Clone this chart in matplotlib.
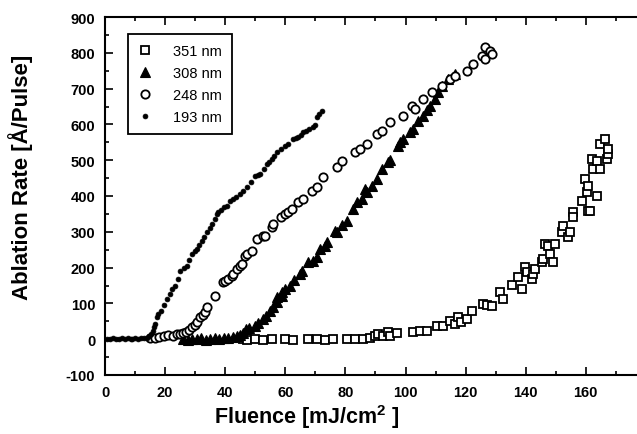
import matplotlib
matplotlib.use("Agg")
import matplotlib.pyplot as plt
from matplotlib.ticker import MultipleLocator

plt.rcParams['font.family'] = ['Liberation Sans', 'DejaVu Sans']
plt.rcParams['axes.unicode_minus'] = False
plt.rcParams['mathtext.fontset'] = 'custom'
plt.rcParams['mathtext.bf'] = 'Liberation Sans:bold'
plt.rcParams['mathtext.rm'] = 'Liberation Sans'

# 351 nm
x351 = [46, 47.2, 49.9, 52.6, 55.5, 59.9, 62.5, 67.5, 70.5, 73.2, 75.8, 80.5, 83.2, 85.8, 88.2,
        89.8, 90.8, 92.5, 94.1, 94.8, 97.1, 102.5, 104.8, 107.1, 110.4, 112.4, 114.8, 116.5,
        117.4, 118.5, 120.4, 122.1, 125.7, 127, 128.7, 131.4, 132.4, 135.4, 137.4, 138.7, 139.7,
        140.4, 142, 142.4, 143, 145.4, 145.7, 146.4, 147.4, 148, 149, 149.7, 152, 152.4, 154,
        154.7, 155.7, 155.7, 158.7, 159.7, 160.4, 160.7, 160.7, 161.3, 162, 162.3, 163.7, 163.7,
        164.7, 164.7, 166.3, 167, 167.3, 167.3]
y351 = [0, -2, 0, -1, 0, 0, -1, 0, 0, -1, 0, 0, 1, 0, 3,
        8, 14, 10, 20, 8, 17, 20, 22, 22, 36, 36, 50, 42,
        61, 48, 56, 78, 98, 95, 92, 131, 112, 151, 173, 140, 201,
        187, 168, 182, 196, 215, 223, 265, 260, 237, 215, 265, 299, 316, 285,
        299, 355, 341, 385, 447, 410, 427, 358, 358, 503, 475, 399, 497,
        475, 545, 559, 503, 517, 531]

# 308 nm
x308 = [26, 27.5, 29, 30.5, 32, 33.5, 35, 36.5, 38, 39.5, 41, 42.5, 43.8, 45, 46, 47, 48,
        49.9, 51, 52.6, 53.5, 54.9, 56, 57.2, 57.2, 58.9, 58.9, 60, 61.5, 63, 64.9, 65.5,
        67.5, 69.2, 70.5, 71.5, 73.2, 73.9, 76.5, 77.2, 79, 80.5, 82.5, 83.8, 85.5, 86.5,
        87.2, 88.8, 90.5, 92.2, 94.1, 95, 97.5, 98.2, 99.1, 101.5, 102.5, 104.1, 105.8, 107,
        108.1, 109.8, 110.8, 112.1, 114.1, 116.4]
y308 = [0, -2, 1, 0, 2, -1, 0, 3, 1, 2, 4, 5, 8, 12, 18, 28, 30,
        36, 45, 56, 65, 78, 90, 103, 117, 120, 131, 140, 148, 165, 182, 190,
        215, 218, 229, 251, 260, 271, 302, 300, 320, 330, 363, 383, 391, 419,
        410, 427, 447, 475, 494, 500, 539, 550, 559, 580, 587, 609, 623, 640,
        651, 670, 690, 707, 726, 740]

# 248 nm
x248 = [15, 16.5, 18, 19.5, 21, 22.5, 24, 25, 26, 27, 28, 29, 30, 30.6, 31.6, 32.5, 33.3,
        33.9, 36.6, 39.3, 39.9, 41, 42.2, 42.6, 43.8, 44.9, 45.5, 46.6, 47.2, 48.9, 50.6,
        52.6, 53.2, 55.5, 55.9, 58.5, 59.9, 61, 62.2, 64.2, 65.9, 68.9, 70.5, 72.5, 77.2,
        78.8, 83.2, 84.8, 87.2, 90.5, 92.2, 94.8, 99.1, 102.1, 103.1, 105.8, 108.8, 112.1,
        114.8, 116.4, 120.4, 122.4, 125.4, 126.4, 126.4, 128.1, 128.7]
y248 = [2, 4, 6, 8, 12, 10, 14, 14, 17, 19, 25, 33, 40, 47, 61, 68, 75,
        89, 120, 159, 162, 168, 176, 182, 196, 204, 209, 232, 237, 246, 279,
        288, 288, 313, 321, 340, 349, 355, 363, 383, 391, 413, 424, 452, 480,
        497, 522, 531, 545, 573, 581, 606, 623, 651, 642, 670, 690, 707,
        726, 735, 749, 768, 791, 816, 782, 804, 796]

# 193 nm
x193 = [0.5, 1.5, 2.5, 3.5, 4.5, 5.5, 6.5, 7.5, 8.5, 9, 10, 11, 12, 13, 14, 14.8, 15.4,
        15.9, 16.3, 16.6, 17.2, 17.8, 18.8, 19.6, 20.5, 21.5, 22.3, 23.4, 24.4, 25, 26.2,
        27.2, 28, 28.9, 29.8, 30.6, 31.4, 32.2, 33, 33.9, 34.8, 35.6, 36.6, 37.2, 37.7,
        38.6, 39.6, 40.5, 41.5, 42.6, 43.5, 44.9, 46, 47.2, 48.5, 49.9, 50.8, 51.6, 52.8,
        53.8, 54.6, 55.5, 56.3, 57.2, 58.5, 59.9, 61, 62.6, 63.5, 64.3, 65.2, 66, 67, 68,
        69.3, 70, 70.5, 71.3, 72.2]
y193 = [1, 0, 2, 1, 0, 3, 1, 2, 0, 1, 2, 0, 3, 2, 4, 8, 15,
        22, 35, 42, 61, 70, 78, 95, 112, 125, 140, 150, 168, 190, 200,
        204, 222, 237, 245, 251, 262, 274, 285, 299, 310, 322, 335, 349, 355,
        362, 370, 372, 385, 391, 398, 405, 415, 424, 440, 455, 458, 461, 475,
        489, 495, 503, 512, 522, 530, 539, 545, 559, 562, 564, 570, 578, 582, 587,
        592, 598, 620, 628, 637]

x_ticks = [0, 20, 40, 60, 80, 100, 120, 140, 160]
y_ticks = [-100, 0, 100, 200, 300, 400, 500, 600, 700, 800, 900]

fig = plt.figure(figsize=(6.37, 4.35), dpi=100)
ax = fig.add_axes([105 / 637, 1 - 376 / 435, 540.9 / 637, 358 / 435])

ax.plot(x351, y351, ls='none', marker='s', ms=6, mfc='white', mec='black', mew=1.3,
        label='351 nm', zorder=3)
ax.plot(x308, y308, ls='none', marker='^', ms=6.5, mfc='black', mec='black', mew=0.8,
        label='308 nm', zorder=4)
ax.plot(x248, y248, ls='none', marker='o', ms=6, mfc='white', mec='black', mew=1.3,
        label='248 nm', zorder=5)
ax.plot(x193, y193, ls='none', marker='o', ms=3.5, mfc='black', mec='black', mew=0.5,
        label='193 nm', zorder=6)

ax.set_xlim(0, 180)
ax.set_ylim(-100, 900)
ax.set_xticks(x_ticks)
ax.set_xticklabels([str(v) for v in x_ticks], fontweight='bold')
ax.set_yticks(y_ticks)
ax.set_yticklabels([str(v) for v in y_ticks], fontweight='bold')
ax.xaxis.set_minor_locator(MultipleLocator(10))
ax.yaxis.set_minor_locator(MultipleLocator(50))
ax.tick_params(which='both', direction='in', top=True, right=True, width=1.2)
ax.tick_params(which='major', length=6, labelsize=10.5, pad=7)
ax.tick_params(which='minor', length=3)
for sp in ax.spines.values():
    sp.set_linewidth(1.5)

leg = ax.legend(loc='upper left', bbox_to_anchor=(0.0425, 0.9525), borderaxespad=0,
                fancybox=False, framealpha=1, edgecolor='black', fontsize=10.5,
                handlelength=1.0, handletextpad=1.4, labelspacing=0.55, borderpad=0.7,
                markerscale=1.0)
leg.get_frame().set_linewidth(1.3)

fig.text(307 / 637, 1 - 417 / 435, r'Fluence [mJ/cm$^{\mathbf{2}}$ ]', ha='center',
         va='center', fontsize=15.5, fontweight='bold')
fig.text(21 / 637, 1 - 177 / 435, 'Ablation Rate [Å/Pulse]', ha='center', va='center',
         rotation=90, fontsize=16, fontweight='bold')

fig.savefig('out.png', dpi=100)
